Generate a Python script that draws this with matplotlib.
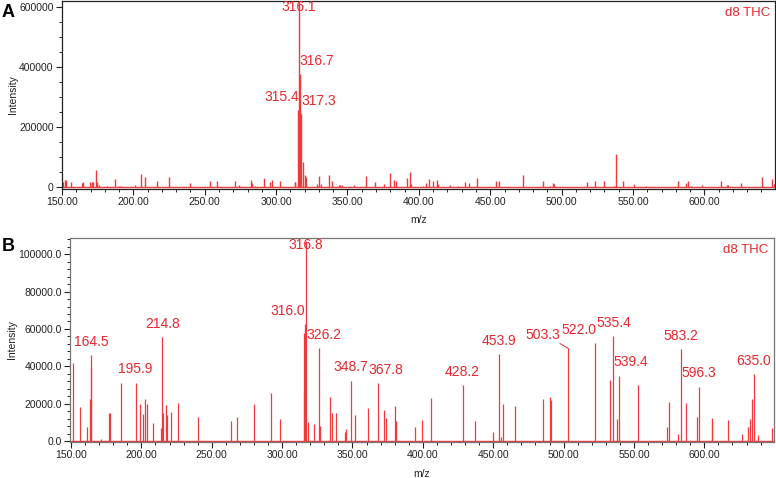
import matplotlib
matplotlib.use("Agg")
import matplotlib.pyplot as plt
from matplotlib.ticker import MultipleLocator, FuncFormatter

plt.rcParams['font.family'] = ['Liberation Sans', 'DejaVu Sans']

# ---------------- Data: panel A ----------------
a_mz = [150.9, 152.1, 153.0, 156.1, 163.8, 164.5, 169.9, 171.3, 172.0, 173.8,
        174.8, 175.9, 181.3, 187.2, 190.2, 191.2, 201.4, 205.2, 208.4, 216.6,
        225.0, 239.5, 254.0, 258.9, 271.5, 274.3, 282.3, 283.4, 284.9, 291.2,
        295.4, 296.8, 302.4, 312.9, 313.4, 315.4, 315.7, 316.1, 316.4, 316.7,
        317.0, 317.3, 318.5, 320.4, 320.9, 328.5, 330.2, 331.1, 337.0, 339.1,
        343.8, 345.0, 346.1, 354.6, 363.2, 369.3, 375.4, 379.6, 382.4, 383.8,
        391.7, 393.6, 394.7, 402.7, 405.3, 406.9, 409.7, 412.5, 413.7, 422.1,
        427.5, 432.1, 435.4, 440.8, 454.1, 456.0, 473.1, 487.1, 491.8, 494.2,
        494.5, 517.9, 523.3, 529.8, 536.6, 538.3, 542.7, 550.6, 559.3, 581.8,
        587.4, 588.8, 590.4, 598.3, 611.6, 615.6, 616.8, 626.0, 640.7, 647.4,
        648.8]
a_int = [18900, 24400, 24400, 16700, 13300, 16700, 16700, 16700, 16700, 56700,
         16700, 7800, 4400, 26700, 4400, 4400, 8900, 45500, 35500, 20000,
         35500, 14400, 20000, 20000, 20000, 8900, 24400, 15600, 4400, 30000,
         16700, 24400, 20000, 18900, 16700, 257000, 250000, 640000, 252000, 378000,
         250000, 245000, 85300, 41000, 35500, 11100, 37800, 11100, 41000, 21100,
         8900, 8900, 8900, 7800, 37800, 18900, 11100, 48900, 24400, 21100,
         30000, 51100, 11100, 4400, 13300, 27800, 22200, 24400, 11100, 8900,
         4400, 17800, 15600, 31100, 22200, 22200, 42200, 22200, 4400, 15600,
         11100, 17800, 21100, 20000, 4400, 111000, 22200, 11100, 4400, 22200,
         13300, 20000, 4400, 8900, 21100, 8900, 8900, 15600, 33300, 27800,
         11100]
a_labels = [316.1, 316.7, 315.4, 317.3]

# ---------------- Data: panel B ----------------
b_mz = [151.2, 156.4, 161.2, 163.4, 164.0, 164.5, 171.4, 177.3, 178.0, 185.6,
        195.9, 199.1, 201.5, 202.9, 203.8, 208.1, 214.3, 214.8, 215.5, 217.4,
        218.1, 220.9, 226.2, 240.2, 263.9, 267.9, 280.2, 292.1, 298.3, 315.6,
        315.9, 316.0, 316.8, 318.2, 322.5, 326.2, 327.2, 334.1, 335.5, 338.1,
        345.0, 345.6, 348.7, 352.1, 361.2, 367.8, 372.3, 374.0, 379.9, 381.1,
        394.1, 399.1, 406.0, 428.2, 437.3, 449.9, 453.9, 455.3, 457.0, 465.8,
        485.7, 490.4, 491.4, 503.3, 522.0, 532.9, 535.4, 537.9, 539.4, 552.8,
        573.5, 574.9, 581.1, 583.2, 587.2, 594.6, 596.3, 605.3, 605.6, 617.1,
        627.1, 630.9, 632.1, 634.0, 635.0, 638.0, 648.0]
b_int = [42000, 18000, 7700, 22300, 39500, 46000, 900, 14800, 14800, 31200,
         31200, 19800, 14300, 22300, 19800, 9800, 7100, 55500, 14800, 19300,
         14000, 15700, 20500, 12700, 10700, 12700, 20000, 25500, 11900, 26200,
         58000, 62500, 107000, 10400, 8900, 49600, 8000, 23700, 15000, 14800,
         5000, 6500, 32300, 14000, 17500, 30900, 16600, 12500, 18700, 10700,
         7300, 11200, 23200, 29800, 10700, 4800, 46400, 2000, 20000, 18700,
         22300, 23300, 21900, 49600, 52300, 32700, 56200, 11600, 35000, 30000,
         7700, 21000, 3800, 49300, 20500, 13000, 29100, 10400, 12500, 11200,
         3500, 7300, 11800, 22500, 35900, 3000, 6800]
b_labels = [164.5, 195.9, 214.8, 316.0, 316.8, 326.2, 348.7, 367.8, 428.2,
            453.9, 503.3, 522.0, 535.4, 539.4, 583.2, 596.3, 635.0]

# label placement styles (alignment, x offset in points)
a_lab_ha = ['center', 'left', 'right', 'left']
a_lab_dx = [0, -0.5, 0.5, 0.5]
b_lab_ha = ['center', 'center', 'center', 'right', 'center', 'left', 'center',
            'left', 'center', 'center', 'center', 'right', 'center', 'left',
            'center', 'center', 'center']
b_lab_dx = [0, 0, 0, 0.5, 0, -9.0, 0, -6.3, 0, 0, -18.5, 1.0, 0, -3.8, 0, 0, 0]

RED = '#e8262b'
LINE = '#ee3a3a'
W, H = 776, 478
fig = plt.figure(figsize=(W / 100, H / 100), dpi=100)

def frac(l, t, r, b):
    return [l / W, 1 - b / H, (r - l) / W, (b - t) / H]

axA = fig.add_axes(frac(62, 1, 775, 188.5))
axB = fig.add_axes(frac(70, 238, 774, 442))

def style(ax, spine_col):
    for s in ax.spines.values():
        s.set_color(spine_col)
        s.set_linewidth(0.9)
    ax.tick_params(axis='both', which='major', direction='out', length=4,
                   width=0.8, color='#222', labelsize=7.5, labelcolor='#222', pad=2)
    ax.tick_params(axis='both', which='minor', direction='out', length=2.3,
                   width=0.7, color='#222')
    ax.xaxis.set_major_locator(MultipleLocator(50))
    ax.xaxis.set_minor_locator(MultipleLocator(10))
    ax.xaxis.set_major_formatter(FuncFormatter(lambda v, p: f"{v:.2f}"))
    ax.set_xlabel('m/z', fontsize=7.5, color='#222', labelpad=2)
    ax.set_ylabel('Intensity', fontsize=7.5, color='#222')

def labels(ax, mzs, ints, labs, has, dxs):
    ytop = ax.get_ylim()[1]
    for lab, ha, dx in zip(labs, has, dxs):
        i = min(range(len(mzs)), key=lambda k: abs(mzs[k] - lab))
        val = ints[i]
        if val > 0.9 * ytop:
            y, dy = 0.93 * ytop, 0
        else:
            y, dy = val, 4.5
        ax.annotate(f"{lab:.1f}", xy=(mzs[i], y), xytext=(dx, dy),
                    textcoords='offset points', ha=ha, va='bottom',
                    fontsize=10, color=RED)

# ---- Panel A ----
axA.vlines(a_mz, 0, a_int, colors=LINE, lw=1.0)
axA.axhline(0, color=LINE, lw=1.0)
axA.set_xlim(150, 649.5)
axA.set_ylim(-4000, 621000)
axA.yaxis.set_major_locator(MultipleLocator(200000))
axA.yaxis.set_minor_locator(MultipleLocator(50000))
axA.yaxis.set_major_formatter(FuncFormatter(lambda v, p: f"{v:.0f}"))
style(axA, '#222')
axA.yaxis.set_label_coords(-0.062, 0.5)
axA.xaxis.set_label_coords(0.5, -0.14)
labels(axA, a_mz, a_int, a_labels, a_lab_ha, a_lab_dx)
axA.text(0.993, 0.97, 'd8 THC', transform=axA.transAxes, ha='right', va='top',
         fontsize=9.5, color=RED)
fig.text(2 / W, 1 - 4 / H, 'A', fontsize=13, fontweight='bold', va='top', ha='left')

# ---- Panel B ----
axB.vlines(b_mz, 0, b_int, colors=LINE, lw=0.9)
axB.axhline(0, color=LINE, lw=1.0)
axB.set_xlim(149.3, 649.5)
axB.set_ylim(-535, 108700)
axB.yaxis.set_major_locator(MultipleLocator(20000))
axB.yaxis.set_minor_locator(MultipleLocator(4000))
axB.yaxis.set_major_formatter(FuncFormatter(lambda v, p: f"{v:.1f}"))
style(axB, '#777')
axB.yaxis.set_label_coords(-0.075, 0.5)
axB.xaxis.set_label_coords(0.5, -0.13)
labels(axB, b_mz, b_int, b_labels, b_lab_ha, b_lab_dx)
# leader line for 503.3
i503 = b_mz.index(503.3)
axB.annotate('', xy=(b_mz[i503], b_int[i503]), xytext=(-6, 3.5),
             textcoords='offset points',
             arrowprops=dict(arrowstyle='-', color=RED, lw=0.7,
                             shrinkA=0, shrinkB=0))
axB.text(0.992, 0.97, 'd8 THC', transform=axB.transAxes, ha='right', va='top',
         fontsize=9.5, color=RED)
fig.text(2 / W, 1 - 238 / H, 'B', fontsize=13, fontweight='bold', va='top', ha='left')

fig.savefig('out.png', dpi=100)
